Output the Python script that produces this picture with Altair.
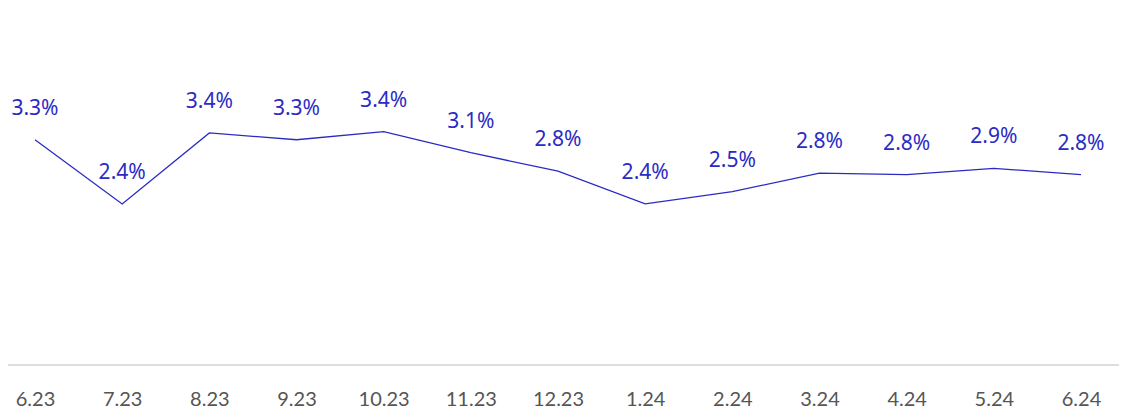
import altair as alt
import pandas as pd

months = ["6.23", "7.23", "8.23", "9.23", "10.23", "11.23", "12.23",
          "1.24", "2.24", "3.24", "4.24", "5.24", "6.24"]
values = [3.30, 2.36, 3.40, 3.30, 3.42, 3.11, 2.84, 2.36, 2.54, 2.81, 2.79, 2.88, 2.79]

df = pd.DataFrame({"month": months, "value": values})
df["label"] = [f"{v:.1f}%" for v in values]

W, H = 1111, 357
BLUE = "#2b2bc4"
FONT = "Noto Sans"
AXFONT = "Lato"

x = alt.X("month:N", sort=months,
          scale=alt.Scale(type="point", range=[27, 1073], padding=0),
          axis=alt.Axis(title=None, domain=False, ticks=False, grid=False,
                        labelAngle=0, labelFontSize=20, labelColor="#555555",
                        labelFont=AXFONT, labelPadding=24))
y = alt.Y("value:Q", scale=alt.Scale(domain=[0, 5.23], nice=False, zero=True),
          axis=None)

base = alt.Chart(df).encode(x=x, y=y)

line = base.mark_line(color=BLUE, strokeWidth=1.3)
text = base.mark_text(color=BLUE, fontSize=21, font=FONT, dy=-31,
                      baseline="middle").encode(text="label:N")

rule = alt.Chart(pd.DataFrame({"a": [0]})).mark_rule(
    color="#dddddd", strokeWidth=2, clip=False
).encode(x=alt.value(0), x2=alt.value(W), y=alt.value(H))

chart = alt.layer(rule, line, text).properties(
    width=W, height=H,
    autosize=alt.AutoSizeParams(type="none"),
    padding={"left": 0, "top": 0, "right": 0, "bottom": 43},
).configure_view(strokeWidth=0)

chart.save("out.html", embed_options={"renderer": "svg", "actions": False})
